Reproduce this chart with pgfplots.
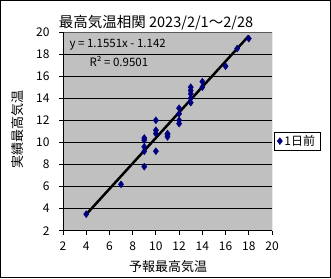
\documentclass[border=0pt]{standalone}
\usepackage{fontspec}
\setmainfont{Noto Sans CJK JP}
\usepackage{pgfplots}
\pgfplotsset{compat=1.18}
\definecolor{plotgray}{RGB}{192,192,192}
\definecolor{navyblue}{RGB}{0,0,128}
\pgfplotstableread{
x y
4 3.5
7 6.2
9 7.8
9 9.2
9 9.6
9 10.2
9 10.4
10 9.2
10 10.8
10 11.1
10 12.0
11 10.5
11 10.7
11 10.8
12 11.7
12 12.0
12 12.6
12 13.1
13 13.6
13 14.0
13 14.4
13 14.7
13 15.0
14 15.0
14 15.5
16 16.9
17 18.5
18 19.4
}\datatable
\begin{document}
\begin{tikzpicture}[x=1pt,y=1pt]
\fill[white] (0,0) rectangle (331,278);
\draw[black, line width=1pt] (0.5,0.5) rectangle (330.5,277.5);
\begin{axis}[
  at={(63pt,47.3pt)}, anchor=south west, scale only axis,
  width=209pt, height=198.7pt,
  xmin=2, xmax=20, ymin=2, ymax=20,
  xtick={2,4,...,20}, ytick={2,4,...,20},
  axis background/.style={fill=plotgray},
  ymajorgrids, grid style={black, line width=0.8pt},
  axis line style={draw=none},
  tick align=outside, major tick length=4pt,
  tick style={black, line width=0.8pt},
  xtick pos=bottom, ytick pos=left,
  ticklabel style={font=\fontsize{12}{14}\selectfont},
  xticklabel style={yshift=-4pt},
  yticklabel style={xshift=-6pt},
  /pgf/number format/assume math mode=true,
  legend style={at={(1.0096,0.451)}, anchor=west, draw=black, fill=white,
    font=\fontsize{12}{14}\selectfont, inner xsep=3pt, inner ysep=1pt, row sep=0pt},
  legend cell align=left,
]
\addplot[black, line width=2.5pt, forget plot] coordinates {(4,3.4784) (18,19.6498)};
\addplot[only marks, mark=diamond*, mark size=3.5pt, color=navyblue] table[x=x,y=y] {\datatable};
\addlegendentry{1日前}
\draw[gray!70!black, line width=0.8pt] (rel axis cs:0,1) -- (rel axis cs:1,1) -- (rel axis cs:1,0);
\draw[black, line width=0.8pt] (rel axis cs:0,1) -- (rel axis cs:0,0) -- (rel axis cs:1,0);
\end{axis}
\node[font=\fontsize{14.5}{16}\selectfont] at (156,255) {最高気温相関 2023/2/1～2/28};
\node[font=\fontsize{11.5}{13}\selectfont, anchor=west] at (66,233) {y = 1.1551x - 1.142};
\node[font=\fontsize{11.5}{13}\selectfont, anchor=west] at (86,217) {R² = 0.9501};
\node[font=\fontsize{13}{15}\selectfont, rotate=90] at (18,148) {実績最高気温};
\node[font=\fontsize{13}{15}\selectfont] at (168,11) {予報最高気温};
\end{tikzpicture}
\end{document}
